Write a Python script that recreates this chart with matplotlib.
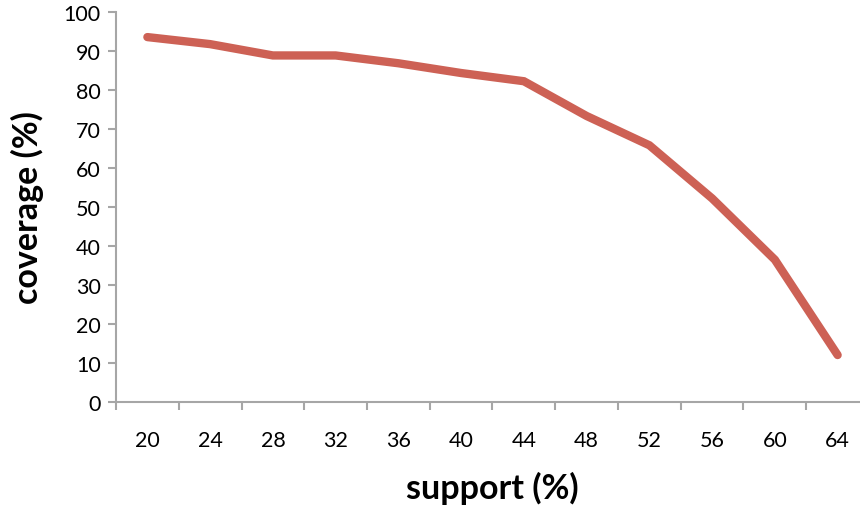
import matplotlib
matplotlib.use("Agg")
import matplotlib.pyplot as plt
import numpy as np

support = [20, 24, 28, 32, 36, 40, 44, 48, 52, 56, 60, 64]
coverage = [93.5, 91.7, 88.8, 88.8, 86.8, 84.3, 82.2, 73.3, 65.8, 52.2, 36.5, 12.1]

plt.rcParams['font.family'] = ['Lato', 'DejaVu Sans']

fig = plt.figure(figsize=(8.6, 5.06), dpi=100)
ax = fig.add_axes([116/860, 1 - 403.3/506, 753/860, (403.3 - 12.7)/506])

x = np.arange(len(support)) + 0.5
ax.plot(x, coverage, color='#CD6155', lw=6, solid_capstyle='round', solid_joinstyle='miter', clip_on=False)

ax.set_xlim(0, len(support))
ax.set_ylim(0, 100)
ax.set_yticks(np.arange(0, 101, 10))
ax.set_xticks(x)
ax.set_xticklabels([str(s) for s in support])
ax.set_xticks(np.arange(0, len(support) + 1), minor=True)
ax.tick_params(axis='x', which='major', length=0, pad=20, labelsize=15.5, colors='black')
ax.tick_params(axis='x', which='minor', length=6, width=1.5, color='#A6A6A6')
ax.tick_params(axis='y', which='major', length=6, width=1.5, color='#A6A6A6', labelsize=15.5, pad=5)

for s in ['top', 'right']:
    ax.spines[s].set_visible(False)
for s in ['left', 'bottom']:
    ax.spines[s].set_color('#A6A6A6')
    ax.spines[s].set_linewidth(1.5)

ax.set_xlabel('support (%)', fontsize=24.5, fontweight='bold', labelpad=15)
ax.set_ylabel('coverage (%)', fontsize=24.5, fontweight='bold', labelpad=14)

fig.savefig('out.png', dpi=100)
